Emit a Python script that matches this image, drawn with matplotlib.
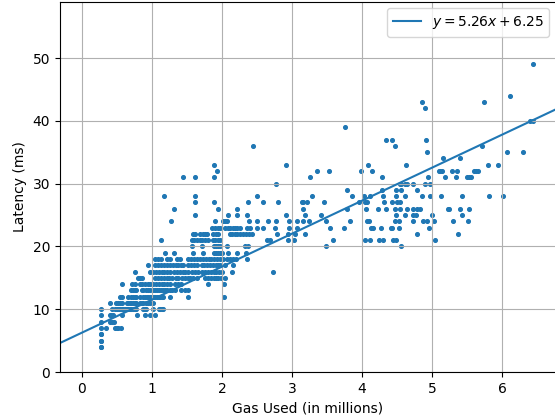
import matplotlib
matplotlib.use('Agg')
import matplotlib.pyplot as plt

# fitted line shown in the legend
slope = 5.26
intercept = 6.25

# gas used (millions) for each latency value (ms)
gas_04 = [0.27, 0.27]
gas_05 = [0.27, 0.27]
gas_06 = [0.27, 0.27]
gas_07 = [0.27, 0.34, 0.47, 0.50, 0.52, 0.56]
gas_08 = [0.27, 0.40, 0.43, 0.46]
gas_09 = [0.27, 0.40, 0.42, 0.45, 0.58, 0.79, 0.90, 0.97, 1.05]
gas_10 = [0.27, 0.43, 0.48, 0.50, 0.53, 0.55, 0.57, 0.59, 0.62, 0.64, 0.66, 0.69,
          0.71, 0.73, 0.76, 0.78, 0.88, 0.90, 0.92, 1.02, 1.10, 1.12, 1.14, 1.16]
gas_11 = [0.41, 0.49, 0.52, 0.55, 0.57, 0.64, 0.66, 0.69, 0.71, 0.73, 0.76, 0.78,
          0.83, 0.86, 0.88, 0.92, 0.95, 0.97, 1.02]
gas_12 = [0.55, 0.57, 0.66, 0.70, 0.73, 0.76, 0.78, 0.83, 0.88, 0.90, 0.93, 0.95,
          0.97, 1.00, 1.03, 1.05, 1.07, 1.10, 1.12, 1.14, 1.16, 1.26, 1.51, 2.03]
gas_13 = [0.71, 0.73, 0.76, 0.78, 0.86, 0.88, 0.92, 0.95, 0.97, 1.02, 1.05, 1.08,
          1.10, 1.13, 1.16, 1.19, 1.22, 1.26, 1.29, 1.33, 1.41, 1.47, 1.51]
gas_14 = [0.58, 0.72, 0.76, 0.83, 0.86, 0.90, 0.94, 0.98, 1.02, 1.06, 1.10, 1.14,
          1.18, 1.22, 1.26, 1.33, 1.37, 1.41, 1.80, 2.03]
gas_15 = [0.80, 0.83, 0.86, 1.05, 1.09, 1.13, 1.17, 1.21, 1.25, 1.29, 1.34, 1.38,
          1.43, 1.47, 1.51, 1.55, 1.59, 1.64, 1.76, 1.80, 1.84, 1.88, 1.92, 1.95,
          1.98, 2.05]
gas_16 = [0.76, 0.97, 1.02, 1.06, 1.10, 1.14, 1.18, 1.22, 1.26, 1.31, 1.36, 1.40,
          1.44, 1.48, 1.52, 1.57, 1.62, 1.66, 1.71, 1.76, 1.80, 1.84, 1.88, 1.92,
          1.96, 2.00, 2.14, 2.73]
gas_17 = [0.95, 1.05, 1.09, 1.13, 1.17, 1.22, 1.26, 1.30, 1.34, 1.38, 1.42, 1.45,
          1.52, 1.56, 1.60, 1.64, 1.71, 1.75, 1.79, 1.83, 1.87, 1.91, 1.94, 1.97,
          2.05, 2.16]
gas_18 = [1.05, 1.09, 1.13, 1.22, 1.26, 1.36, 1.40, 1.52, 1.56, 1.60, 1.64, 1.69,
          1.73, 1.77, 1.81, 1.85, 1.89, 1.93, 1.97, 2.01, 2.07, 2.11, 2.16, 2.20, 2.36]
gas_19 = [1.19, 1.31, 1.59, 1.73, 1.88, 1.91, 1.94, 1.97, 2.00, 2.09, 2.21, 2.35]
gas_20 = [1.57, 1.71, 1.88, 1.91, 1.94, 1.97, 2.07, 2.33, 2.37, 3.49, 4.56]
gas_21 = [1.13, 1.57, 1.60, 1.64, 1.69, 1.72, 1.76, 1.80, 1.87, 1.90, 1.94, 1.97,
          2.64, 2.69, 2.94, 3.03, 3.58, 4.04, 4.11, 4.24, 4.30, 4.44, 4.48, 5.04]
gas_22 = [1.59, 1.62, 1.69, 1.73, 1.76, 1.78, 1.87, 1.91, 1.95, 2.12, 2.15, 2.19,
          2.22, 2.26, 2.30, 2.34, 2.38, 2.43, 2.79, 2.94, 3.04, 3.19, 4.79, 5.37]
gas_23 = [1.86, 1.90, 1.94, 1.97, 2.05, 2.09, 2.12, 2.16, 2.19, 2.22, 2.26, 2.36,
          2.40, 2.50, 2.59, 2.76, 2.95, 3.07, 3.54, 3.74, 4.13, 4.15, 4.27, 4.41,
          4.42, 4.53, 4.96]
gas_24 = [1.28, 1.90, 2.02, 2.05, 2.07, 2.38, 2.50, 2.66, 2.77, 2.96, 3.07, 3.15,
          3.24, 3.48, 3.83, 4.07, 4.10, 4.47, 4.53, 4.72, 4.87, 4.92, 5.03, 5.29, 5.51]
gas_25 = [1.62, 2.08, 2.22, 2.36, 2.91, 3.19, 3.41, 4.48, 4.61, 4.73, 4.77, 4.99, 5.43]
gas_26 = [1.32, 1.95, 2.22, 3.15, 3.79, 4.06, 4.22, 4.34, 4.47, 4.54, 4.64, 4.73,
          4.78, 4.82, 5.22, 5.24, 5.39, 5.53]
gas_27 = [1.62, 1.89, 2.37, 2.58, 2.80, 3.14, 3.16, 3.21, 3.46, 3.95, 4.04, 4.07,
          4.31, 4.42, 4.50, 4.54]
gas_28 = [1.17, 1.62, 2.50, 3.29, 3.85, 4.02, 4.11, 4.30, 4.49, 4.61, 4.86, 4.97,
          5.12, 5.43, 5.81, 6.01]
gas_29 = [3.78, 4.28, 4.49, 4.56, 4.79]
gas_30 = [2.77, 4.54, 4.56, 4.61, 4.64, 4.73, 4.90, 4.97]
gas_31 = [1.44, 1.62, 1.89, 3.25, 4.28, 4.94, 5.18, 5.34, 5.50, 5.53, 5.55]
gas_32 = [1.93, 3.35, 3.53, 3.99, 4.14, 5.09, 5.11, 5.14, 5.28, 5.36, 5.59, 5.62, 5.65]
gas_33 = [1.89, 2.91, 4.08, 4.63, 5.79, 5.94]
gas_34 = [5.15, 5.40]
gas_35 = [4.92, 6.07, 6.29]
gas_36 = [2.45, 4.47, 5.71]
gas_37 = [4.34, 4.43, 4.91]
gas_39 = [3.76]
gas_40 = [6.40, 6.44]
gas_42 = [4.90]
gas_43 = [4.86, 5.74]
gas_44 = [6.11]
gas_49 = [6.44]

rows = [(4, gas_04), (5, gas_05), (6, gas_06), (7, gas_07), (8, gas_08),
        (9, gas_09), (10, gas_10), (11, gas_11), (12, gas_12), (13, gas_13),
        (14, gas_14), (15, gas_15), (16, gas_16), (17, gas_17), (18, gas_18),
        (19, gas_19), (20, gas_20), (21, gas_21), (22, gas_22), (23, gas_23),
        (24, gas_24), (25, gas_25), (26, gas_26), (27, gas_27), (28, gas_28),
        (29, gas_29), (30, gas_30), (31, gas_31), (32, gas_32), (33, gas_33),
        (34, gas_34), (35, gas_35), (36, gas_36), (37, gas_37), (39, gas_39),
        (40, gas_40), (42, gas_42), (43, gas_43), (44, gas_44), (49, gas_49)]

gas = []
latency = []
for lat, xs in rows:
    gas += xs
    latency += [lat] * len(xs)

fig = plt.figure(figsize=(5.55, 4.17), dpi=100)
ax = fig.add_axes([60 / 555, 45 / 417, 496 / 555, 370.5 / 417])
ax.scatter(gas, latency, s=7)
ax.axline((0, intercept), slope=slope,
          label='$y = %.2fx + %.2f$' % (slope, intercept))
ax.set_xlim(-0.31, 6.766)
ax.set_ylim(0, 59)
ax.grid(True)
ax.set_xlabel('Gas Used (in millions)')
ax.set_ylabel('Latency (ms)')
ax.legend(loc='upper right')
fig.savefig('out.png', dpi=100)
